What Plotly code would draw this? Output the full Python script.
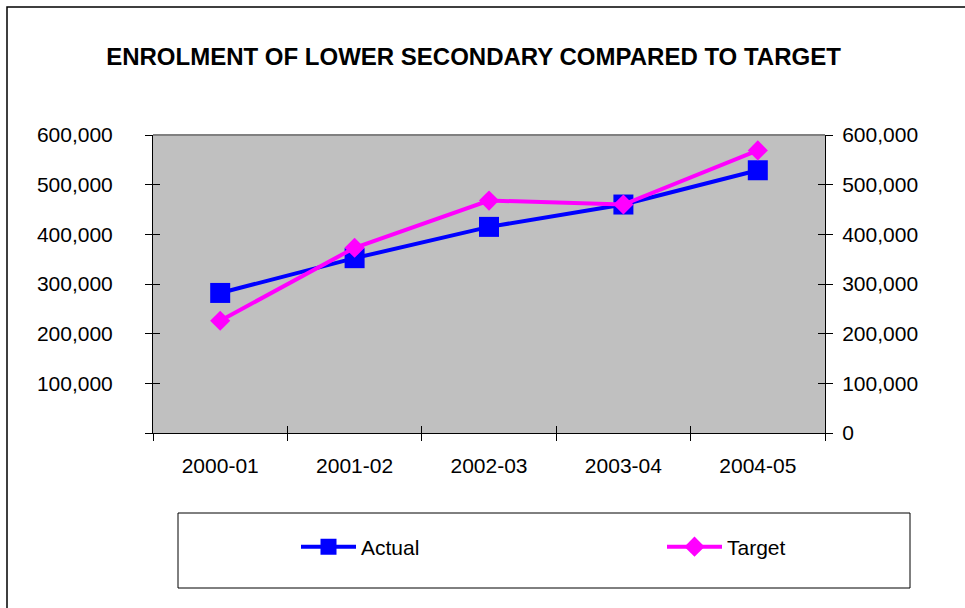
import plotly.graph_objects as go

categories = ["2000-01", "2001-02", "2002-03", "2003-04", "2004-05"]
actual = [282000, 352000, 415000, 460000, 529000]
target = [226000, 373000, 468000, 460000, 569000]
ytick_vals = [0, 100000, 200000, 300000, 400000, 500000, 600000]
ytick_left = ["", "100,000", "200,000", "300,000", "400,000", "500,000", "600,000"]
ytick_right = ["0", "100,000", "200,000", "300,000", "400,000", "500,000", "600,000"]
title_text = "ENROLMENT OF LOWER SECONDARY COMPARED TO TARGET"

FONT = "Liberation Sans, Arial, sans-serif"
W, H = 965, 608
L, R, T, B = 153, 825, 135, 433  # plot area in pixels
pw, ph = R - L, B - T

def px_x(x):
    return (x - L) / pw

def px_y(y):
    return (B - y) / ph

fig = go.Figure()
fig.add_trace(go.Scatter(
    x=categories, y=actual, name="Actual", mode="lines+markers",
    line=dict(color="#0000FF", width=4),
    marker=dict(symbol="square", size=20, color="#0000FF"),
    xaxis="x", yaxis="y", legend="legend",
))
fig.add_trace(go.Scatter(
    x=categories, y=target, name="Target", mode="lines+markers",
    line=dict(color="#FF00FF", width=4),
    marker=dict(symbol="diamond", size=15.5, color="#FF00FF"),
    xaxis="x", yaxis="y", legend="legend2",
))
# helper traces to register overlay axes (no visible marks)
for xa, ya in [("x2", "y2"), ("x", "y3"), ("x", "y4")]:
    fig.add_trace(go.Scatter(x=categories, y=[None] * len(categories),
                             mode="lines", showlegend=False, hoverinfo="skip",
                             xaxis=xa, yaxis=ya))

yrange = [0, 600000]
common_y = dict(range=yrange, tickvals=ytick_vals, showgrid=False, zeroline=False,
                linecolor="black", linewidth=1, showline=True, tickcolor="black",
                ticklen=7, tickwidth=1, fixedrange=True,
                tickfont=dict(family=FONT, size=21, color="black"))

legend_common = dict(orientation="h", xanchor="left", y=px_y(547),
                     yanchor="middle", bgcolor="rgba(0,0,0,0)", borderwidth=0,
                     itemwidth=55, font=dict(family=FONT, size=21, color="black"))

fig.update_layout(
    width=W, height=H, autosize=False,
    margin=dict(l=L, r=W - R, t=T, b=H - B, pad=0),
    paper_bgcolor="white", plot_bgcolor="#C0C0C0",
    font=dict(family=FONT, size=21, color="black"),
    title=dict(text="<b>" + title_text + "</b>", x=473.5 / W, xanchor="center",
               y=1 - 57 / H, yanchor="middle", yref="container",
               font=dict(family=FONT, size=24, color="black")),
    xaxis=dict(type="category", categoryorder="array", categoryarray=categories,
               tickson="boundaries", ticks="outside", ticklen=7, tickcolor="black",
               showline=True, linecolor="black", linewidth=1, showgrid=False,
               ticklabelstandoff=14, range=[-0.5, 4.5], fixedrange=True,
               tickfont=dict(family=FONT, size=21, color="black")),
    xaxis2=dict(type="category", categoryorder="array", categoryarray=categories,
                overlaying="x", side="bottom", tickson="boundaries", ticks="inside",
                ticklen=7, tickcolor="black", showticklabels=False, showline=False,
                showgrid=False, range=[-0.5, 4.5], anchor="y", fixedrange=True),
    yaxis=dict(common_y, side="left", ticks="outside", ticktext=ytick_left,
               ticklabelstandoff=28),
    yaxis2=dict(common_y, side="right", ticks="outside", ticktext=ytick_right,
                overlaying="y", anchor="x", ticklabelstandoff=5),
    yaxis3=dict(common_y, side="left", ticks="inside", overlaying="y", anchor="x",
                showticklabels=False, ticktext=ytick_left),
    yaxis4=dict(common_y, side="right", ticks="inside", overlaying="y", anchor="x",
                showticklabels=False, ticktext=ytick_right),
    showlegend=True,
    legend=dict(legend_common, x=px_x(296)),
    legend2=dict(legend_common, x=px_x(662)),
    shapes=[
        # grey top border of plot area
        dict(type="line", xref="paper", yref="paper", x0=0, x1=1, y0=1, y1=1,
             line=dict(color="#808080", width=2), layer="above"),
        # legend frame
        dict(type="rect", xref="paper", yref="paper",
             x0=px_x(178), x1=px_x(910), y0=px_y(513), y1=px_y(588),
             line=dict(color="black", width=1), fillcolor="rgba(0,0,0,0)"),
        # outer chart frame
        dict(type="rect", xref="paper", yref="paper",
             x0=px_x(7), x1=px_x(980), y0=px_y(7), y1=px_y(640),
             line=dict(color="black", width=1.5), fillcolor="rgba(0,0,0,0)"),
    ],
)

fig.write_html("out.html", config={"displayModeBar": False},
               post_script="document.body.style.margin='0';")
